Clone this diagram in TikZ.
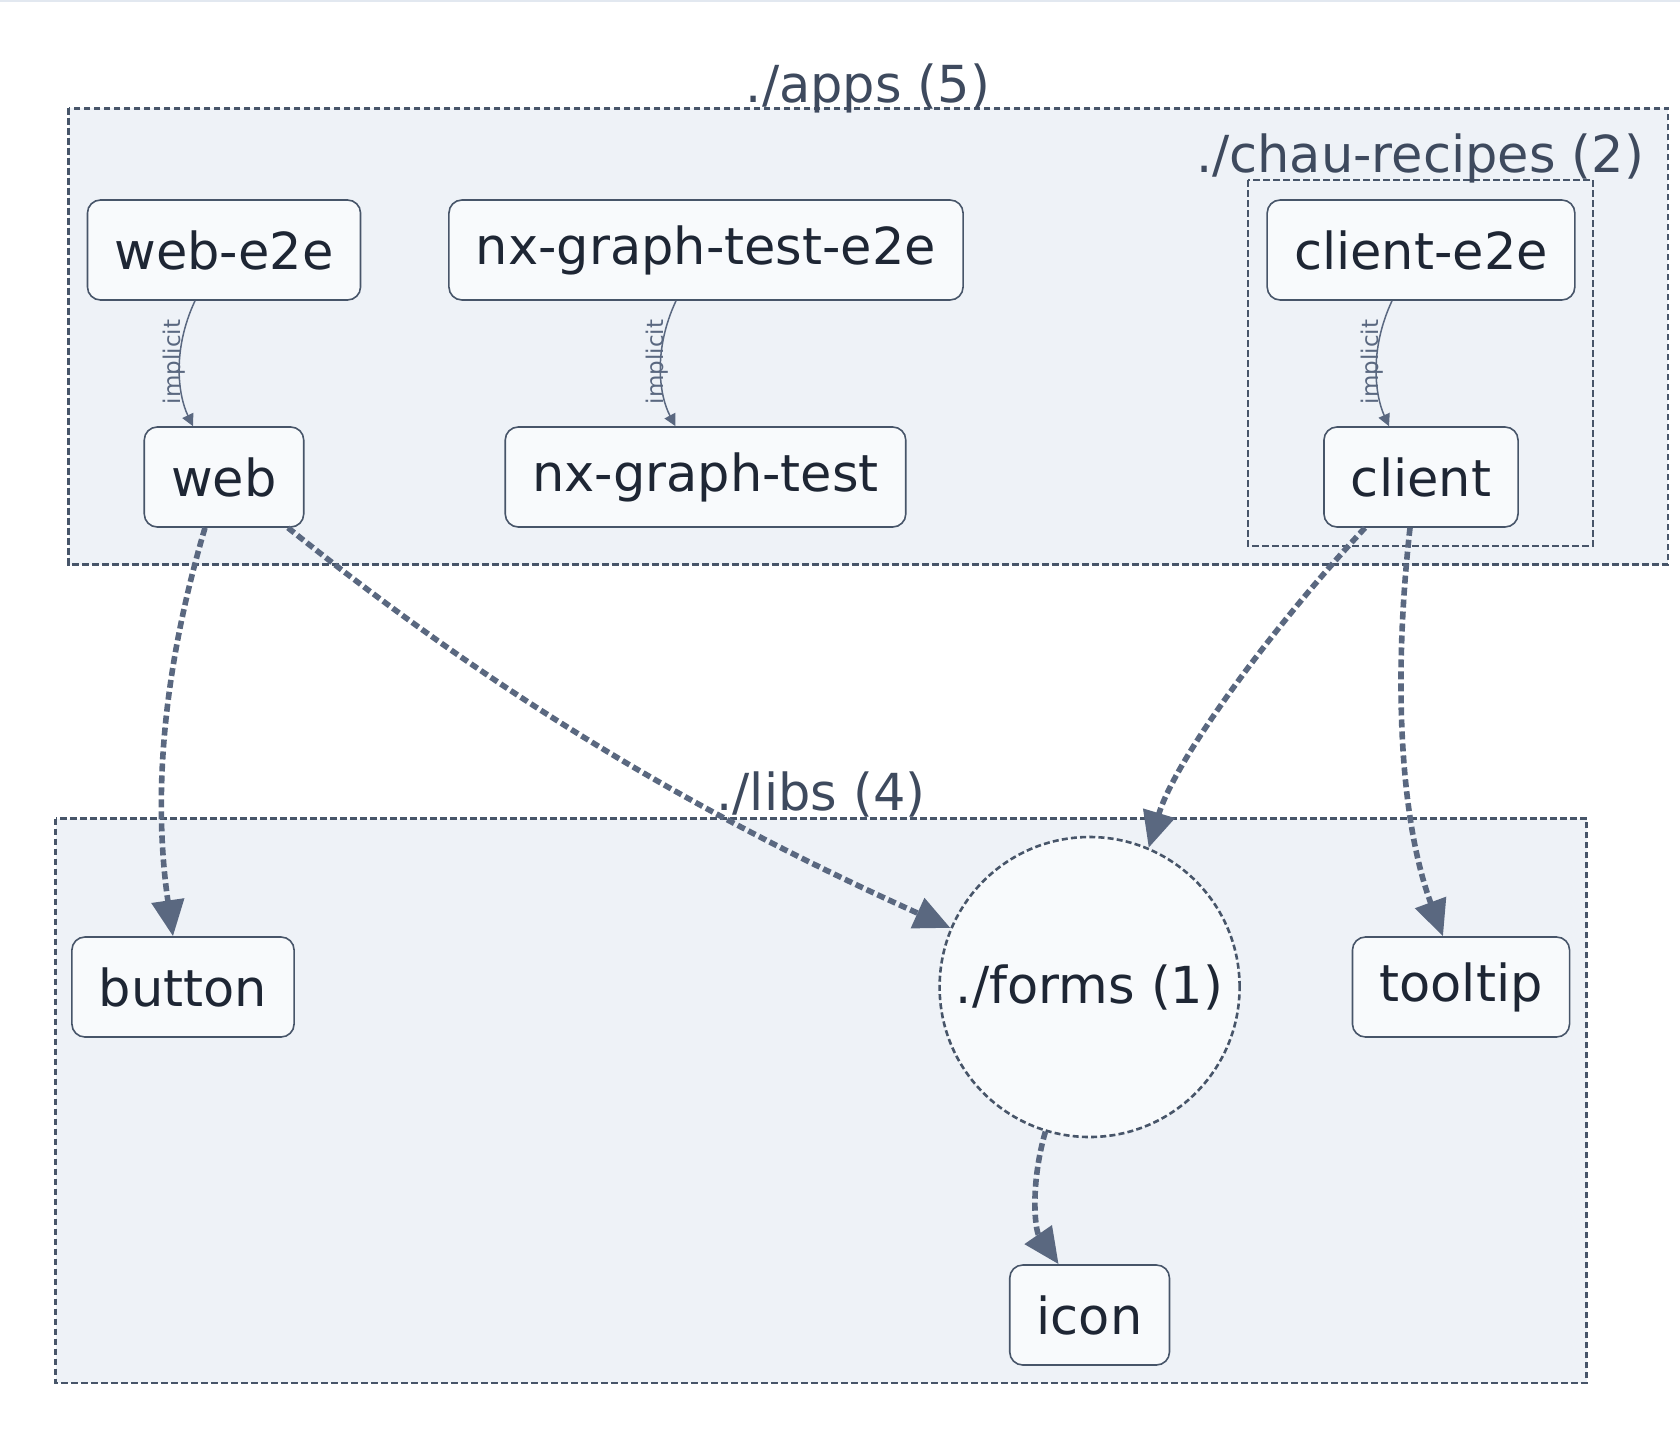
\documentclass[tikz,border=0pt]{standalone}
\usepackage{fontspec}
\setmainfont{DejaVu Sans}
\usetikzlibrary{arrows.meta}

\definecolor{grpfill}{RGB}{238,242,247}
\definecolor{grpline}{RGB}{71,85,105}
\definecolor{nodefill}{RGB}{248,250,252}
\definecolor{nodeline}{RGB}{71,85,105}
\definecolor{nodetext}{RGB}{30,38,52}
\definecolor{edgecol}{RGB}{90,104,128}
\definecolor{grptext}{RGB}{62,74,94}
\definecolor{topline}{RGB}{226,232,240}

\tikzset{
  project/.style={draw=nodeline, fill=nodefill, line width=0.8pt, rounded corners=6.5pt,
    text=nodetext, font=\fontsize{25.5}{30}\selectfont, inner xsep=13.5pt, minimum height=50pt},
  folder/.style={circle, draw=grpline, fill=nodefill, line width=1.3pt, dash pattern=on 3pt off 1.6pt,
    minimum size=150pt, inner sep=0pt, text=nodetext, font=\fontsize{25.5}{30}\selectfont},
  group/.style={draw=grpline, fill=grpfill, line width=1.4pt, dash pattern=on 3.3pt off 1.7pt},
  grouplabel/.style={anchor=base, inner sep=0pt, text=grptext, font=\fontsize{25.5}{30}\selectfont},
  dep/.style={draw=edgecol, line width=2.8pt, dash pattern=on 4pt off 2pt,
    -{Triangle[length=18pt,width=16pt,fill=edgecol]}},
  implicit/.style={draw=edgecol, line width=0.75pt, -{Triangle[length=6pt,width=6pt,fill=edgecol]}},
  implabel/.style={rotate=90, inner sep=0pt, text=edgecol, font=\fontsize{11.5}{13}\selectfont}
}

\begin{document}
\begin{tikzpicture}[yscale=-1, x=0.5pt, y=0.5pt]

    \fill[white] (0,0) rectangle (1680,1434);
    \useasboundingbox (0,0) rectangle (1680,1434);
    \fill[topline] (0,0) rectangle (1680,2.5);

    \draw[group] (68.6,108.2) rectangle (1668,564.6);
    \node[grouplabel] (appslabel) at (868,103) {./apps (5)};
    \draw[group] (1248,180) rectangle (1593,546);
    \node[grouplabel] (chaulabel) at (1420,172) {./chau-recipes (2)};
    \draw[group] (55.7,818.6) rectangle (1586.7,1383);

    \node[project] (webe2e) at (224,250) {web-e2e};
    \node[project] (nxe2e) at (706,250) {nx-graph-test-e2e};
    \node[project] (cliente2e) at (1421,250) {client-e2e};
    \node[project] (web) at (224,477) {web};
    \node[project] (nx) at (705.5,477) {nx-graph-test};
    \node[project] (client) at (1421,477) {client};

    \node[project] (button) at (183,987) {button};
    \node[folder] (forms) at (1089.6,987) {./forms (1)};
    \node[project] (tooltip) at (1461,987) {tooltip};
    \node[project] (icon) at (1089.6,1315) {icon};

    \draw[implicit] ([xshift=-14.5pt]webe2e.south) .. controls (172,350) and (178,395) .. ([xshift=-15.5pt]web.north);
    \node[implabel] (implweb) at (174,362) {implicit};
    \draw[implicit] ([xshift=-15pt]nxe2e.south) .. controls (653,350) and (659,395) .. ([xshift=-15pt]nx.north);
    \node[implabel] (implnx) at (657,362) {implicit};
    \draw[implicit] ([xshift=-14.5pt]cliente2e.south) .. controls (1369,350) and (1375,395) .. ([xshift=-16pt]client.north);
    \node[implabel] (implclient) at (1372.5,362) {implicit};

    \draw[dep] ([xshift=-9.5pt]web.south) .. controls (160,680) and (154,805) .. ([xshift=-5pt]button.north);
    \draw[dep] ([xshift=32pt]web.south) .. controls (518,712) and (718,823) .. (forms.157);
    \node[grouplabel] (libslabel) at (821,810) {./libs (4)};
    \draw[dep] ([xshift=-28pt]client.south) .. controls (1270,630) and (1175,760) .. (forms.67);
    \draw[dep] ([xshift=-5.5pt]client.south) .. controls (1393,680) and (1400,820) .. ([xshift=-9pt]tooltip.north);
    \draw[dep] (forms.253) .. controls (1030,1185) and (1035,1230) .. ([xshift=-15.5pt]icon.north);

\end{tikzpicture}
\end{document}
